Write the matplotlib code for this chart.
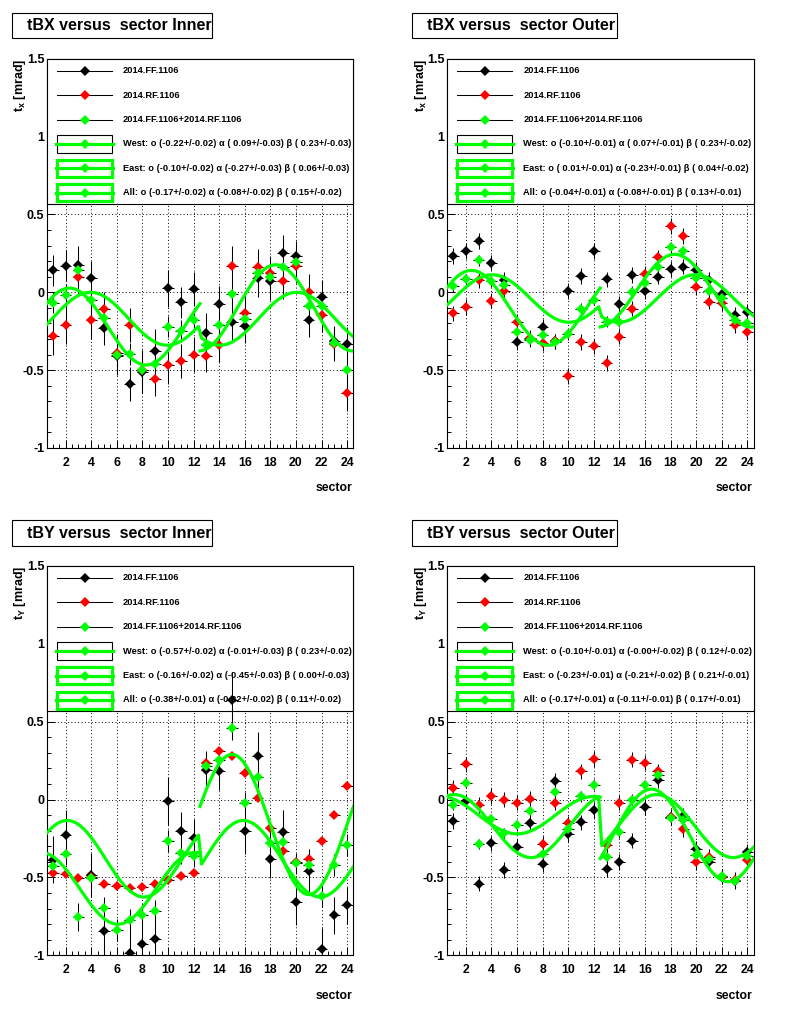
import numpy as np
import matplotlib
matplotlib.use("Agg")
import matplotlib.pyplot as plt
from matplotlib.patches import Rectangle
from matplotlib.lines import Line2D
from matplotlib.ticker import FixedLocator, MultipleLocator

plt.rcParams['font.family'] = ['Liberation Sans', 'DejaVu Sans']
plt.rcParams['font.weight'] = 'bold'
plt.rcParams['mathtext.fontset'] = 'custom'
plt.rcParams['mathtext.rm'] = 'Liberation Sans:bold'
plt.rcParams['mathtext.bf'] = 'Liberation Sans:bold'
plt.rcParams['mathtext.it'] = 'Liberation Sans:bold'

sectors = np.arange(1, 25)
xticks = [2, 4, 6, 8, 10, 12, 14, 16, 18, 20, 22, 24]
yticks = [-1, -0.5, 0, 0.5, 1, 1.5]
ytick_labels = ["-1", "-0.5", "0", "0.5", "1", "1.5"]
series_names = ["2014.FF.1106", "2014.RF.1106", "2014.FF.1106+2014.RF.1106"]
series_colors = ["black", "red", "#00ff00"]
fit_names = ["West", "East", "All"]
GREEN = "#00ff00"

# ---- tBX Inner
tbx_in_ff = [0.14, 0.17, 0.175, 0.09, -0.23, -0.41, -0.59, -0.51, -0.375, 0.025, -0.065, 0.02,
             -0.26, -0.077, -0.19, -0.215, 0.09, 0.07, 0.255, 0.23, -0.18, -0.03, -0.315, -0.335]
tbx_in_ff_err = [0.10, 0.10, 0.12, 0.11, 0.11, 0.12, 0.11, 0.14, 0.14, 0.12, 0.10, 0.11,
                 0.13, 0.12, 0.12, 0.11, 0.12, 0.12, 0.11, 0.10, 0.11, 0.11, 0.10, 0.11]
tbx_in_rf = [-0.28, -0.21, 0.10, -0.18, -0.11, -0.39, -0.21, -0.50, -0.555, -0.47, -0.44, -0.40,
             -0.41, -0.34, 0.17, -0.13, 0.16, 0.125, 0.07, 0.17, 0.005, -0.145, -0.33, -0.65]
tbx_in_rf_err = [0.12, 0.12, 0.11, 0.12, 0.11, 0.12, 0.11, 0.11, 0.11, 0.12, 0.11, 0.11,
                 0.10, 0.11, 0.13, 0.11, 0.12, 0.11, 0.11, 0.11, 0.11, 0.11, 0.11, 0.11]
tbx_in_all = [-0.066, -0.02, 0.14, -0.047, -0.166, -0.40, -0.394, -0.50, -0.46, -0.22, -0.25, -0.18,
              -0.34, -0.21, -0.013, -0.17, 0.125, 0.096, 0.164, 0.196, -0.09, -0.087, -0.323, -0.496]
tbx_in_all_err = [0.07] * 24
tbx_in_fit = [(-0.22, 0.09, 0.23), (-0.10, -0.27, 0.06), (-0.17, -0.08, 0.15)]
tbx_in_fit_err = [(0.02, 0.03, 0.03), (0.02, 0.03, 0.03), (0.02, 0.02, 0.02)]

# ---- tBX Outer
tbx_out_ff = [0.233, 0.265, 0.33, 0.19, 0.08, -0.32, -0.30, -0.22, -0.315, 0.01, 0.105, 0.265,
              0.083, -0.077, 0.11, 0.01, 0.10, 0.15, 0.165, 0.143, 0.08, -0.01, -0.145, -0.124]
tbx_out_ff_err = [0.05] * 24
tbx_out_rf = [-0.135, -0.094, 0.079, -0.053, 0.01, -0.188, -0.295, -0.327, -0.316, -0.536, -0.32, -0.348,
              -0.455, -0.284, -0.105, 0.118, 0.224, 0.425, 0.36, 0.032, -0.06, -0.07, -0.21, -0.258]
tbx_out_rf_err = [0.05] * 24
tbx_out_all = [0.04, 0.085, 0.205, 0.07, 0.047, -0.254, -0.305, -0.273, -0.322, -0.269, -0.107, -0.049,
               -0.188, -0.188, 0.004, 0.062, 0.165, 0.288, 0.265, 0.09, 0.01, -0.038, -0.18, -0.20]
tbx_out_all_err = [0.035] * 24
tbx_out_fit = [(-0.10, 0.07, 0.23), (0.01, -0.23, 0.04), (-0.04, -0.08, 0.13)]
tbx_out_fit_err = [(0.01, 0.01, 0.02), (0.01, 0.01, 0.02), (0.01, 0.01, 0.01)]

# ---- tBY Inner
tby_in_ff = [-0.387, -0.228, np.nan, -0.483, -0.845, np.nan, -0.983, -0.926, -0.898, -0.01, -0.202, -0.245,
             0.19, 0.183, 0.64, -0.202, 0.279, -0.381, -0.206, -0.657, -0.457, -0.962, -0.743, -0.679]
tby_in_ff_err = [0.15, 0.16, 0.15, 0.14, 0.15, 0.15, 0.15, 0.16, 0.15, 0.155, 0.12, 0.12,
                 0.12, 0.12, 0.18, 0.15, 0.155, 0.12, 0.14, 0.15, 0.14, 0.14, 0.12, 0.12]
tby_in_rf = [-0.472, -0.477, -0.504, -0.494, -0.54, -0.553, -0.568, -0.564, -0.54, -0.519, -0.489, -0.472,
             0.234, 0.315, 0.279, 0.17, 0.013, -0.185, -0.33, -0.402, -0.381, -0.266, -0.10, 0.089]
tby_in_rf_err = [0.02] * 24
tby_in_all = [-0.426, -0.349, -0.753, -0.504, -0.696, -0.838, -0.774, -0.738, -0.717, -0.266, -0.345, -0.362,
              0.215, 0.255, 0.46, -0.021, 0.145, -0.281, -0.274, -0.41, -0.419, -0.617, -0.419, -0.291]
tby_in_all_err = [0.07, 0.07, 0.09, 0.07, 0.07, 0.07, 0.07, 0.07, 0.07, 0.07, 0.07, 0.07,
                  0.07, 0.07, 0.08, 0.07, 0.07, 0.07, 0.07, 0.07, 0.07, 0.07, 0.07, 0.07]
tby_in_fit = [(-0.57, -0.01, 0.23), (-0.16, -0.45, 0.00), (-0.38, -0.22, 0.11)]
tby_in_fit_err = [(0.02, 0.03, 0.02), (0.02, 0.03, 0.03), (0.01, 0.02, 0.02)]

# ---- tBY Outer
tby_out_ff = [-0.138, -0.011, -0.54, -0.281, -0.451, -0.302, -0.153, -0.413, 0.119, -0.223, -0.147, -0.068,
              -0.447, -0.402, -0.264, -0.047, 0.123, -0.115, -0.104, -0.319, -0.398, -0.494, -0.526, -0.334]
tby_out_ff_err = [0.05] * 24
tby_out_rf = [0.077, 0.226, -0.036, 0.023, 0.0, -0.019, 0.006, -0.285, -0.019, -0.153, 0.181, 0.262,
              -0.291, -0.019, 0.257, 0.238, 0.181, -0.111, -0.191, -0.404, -0.366, -0.494, -0.515, -0.387]
tby_out_rf_err = [0.05] * 24
tby_out_all = [-0.032, 0.109, -0.285, -0.126, -0.217, -0.166, -0.074, -0.349, 0.049, -0.189, 0.021, 0.096,
               -0.366, -0.209, 0.0, 0.091, 0.155, -0.121, -0.132, -0.355, -0.383, -0.489, -0.526, -0.362]
tby_out_all_err = [0.035] * 24
tby_out_fit = [(-0.10, -0.0, 0.12), (-0.23, -0.21, 0.21), (-0.17, -0.11, 0.17)]
tby_out_fit_err = [(0.01, 0.02, 0.02), (0.01, 0.02, 0.01), (0.01, 0.01, 0.01)]

panels = [
    ("tBX versus  sector Inner", "x", (tbx_in_ff, tbx_in_rf, tbx_in_all),
     (tbx_in_ff_err, tbx_in_rf_err, tbx_in_all_err), tbx_in_fit, tbx_in_fit_err),
    ("tBX versus  sector Outer", "x", (tbx_out_ff, tbx_out_rf, tbx_out_all),
     (tbx_out_ff_err, tbx_out_rf_err, tbx_out_all_err), tbx_out_fit, tbx_out_fit_err),
    ("tBY versus  sector Inner", "y", (tby_in_ff, tby_in_rf, tby_in_all),
     (tby_in_ff_err, tby_in_rf_err, tby_in_all_err), tby_in_fit, tby_in_fit_err),
    ("tBY versus  sector Outer", "y", (tby_out_ff, tby_out_rf, tby_out_all),
     (tby_out_ff_err, tby_out_rf_err, tby_out_all_err), tby_out_fit, tby_out_fit_err),
]


def fit_func(kind, o, a, b, s, east):
    # o + alpha/beta harmonic in sector phi (STAR layout: west 1-12, east 13-24)
    phi = np.deg2rad(np.where(east, 90 + 30 * s, 90 - 30 * s))
    if kind == "x":
        return o + a * np.sin(phi) + b * np.cos(phi)
    sign = np.where(east, -1.0, 1.0)
    return o + sign * (-a * np.cos(phi) + b * np.sin(phi))


W, H = 800, 1014
fig = plt.figure(figsize=(W / 100, H / 100), dpi=100)
fig.patch.set_facecolor("white")

origins = [(0, 0), (400.2, 0), (0, 507.3), (400.2, 507.3)]
AX_L, AX_R, AX_T, AX_B = 46.5, 353.5, 58.7, 448.0
AXW, AXH = AX_R - AX_L, AX_B - AX_T
LEG_H = 145.3
rows_px = [12, 36.4, 60.8, 85.2, 109.6, 134]

for (title, kind, vals, errs, fits, fit_errs), (ox, oy) in zip(panels, origins):
    ax = fig.add_axes([(ox + AX_L) / W, 1 - (oy + AX_B) / H, AXW / W, AXH / H])
    ax.set_xlim(0.5, 24.5)
    ax.set_ylim(-1, 1.5)
    ax.set_axisbelow(True)
    ax.xaxis.set_major_locator(FixedLocator(xticks))
    ax.set_xticklabels([str(t) for t in xticks])
    ax.xaxis.set_minor_locator(MultipleLocator(0.5))
    ax.yaxis.set_major_locator(FixedLocator(yticks))
    ax.set_yticklabels(ytick_labels)
    ax.yaxis.set_minor_locator(MultipleLocator(0.1))
    ax.tick_params(which="both", direction="in", top=False, right=False, width=0.7, colors="black")
    ax.tick_params(which="major", length=5.5)
    ax.tick_params(which="minor", length=2.8)
    ax.tick_params(axis="x", labelsize=8.8, pad=6.5)
    ax.tick_params(axis="y", labelsize=9, pad=1.5)
    for sp in ax.spines.values():
        sp.set_linewidth(0.8)
    ax.grid(True, which="major", color="black", linestyle=(0, (1, 2.5)), linewidth=0.7)
    ax.set_xlabel("sector", loc="right", fontsize=8.8, fontweight="bold")
    ax.xaxis.set_label_coords(0.996, -0.088)

    # data
    for v, e, c in zip(vals, errs, series_colors):
        ax.errorbar(sectors, v, yerr=e, xerr=0.45, fmt="D", color=c, ms=4.9, mec=c, mew=0,
                    ecolor="black", elinewidth=0.75, capsize=0, zorder=4)

    # fits
    (fw, fe, fa) = fits
    s_w = np.linspace(0.5, 12.5, 100)
    s_e = np.linspace(12.5, 24.5, 100)
    s_a = np.linspace(0.5, 24.5, 100)
    ax.plot(s_w, fit_func(kind, *fw, s_w, np.zeros_like(s_w, bool)), color=GREEN, lw=2.3, zorder=5)
    ax.plot(s_e, fit_func(kind, *fe, s_e, np.ones_like(s_e, bool)), color=GREEN, lw=2.3, zorder=5)
    ax.plot(s_a, fit_func(kind, *fa, s_a, s_a > 12.5), color=GREEN, lw=2.3, zorder=5)

    # legend box
    tr = ax.transAxes
    ax.add_patch(Rectangle((0, 1 - LEG_H / AXH), 1, LEG_H / AXH, transform=tr, fc="white",
                           ec="black", lw=0.8, zorder=3, clip_on=False))
    hx0, hx1, hxc, tx = 10.5 / AXW, 65.5 / AXW, 38 / AXW, 76.5 / AXW
    labels = list(series_names)
    for name, p, pe in zip(fit_names, fits, fit_errs):
        labels.append(f"{name}: o ({p[0]:5.2f}+/-{pe[0]:.2f}) \u03b1 ({p[1]:5.2f}+/-{pe[1]:.2f}) "
                      f"\u03b2 ({p[2]:5.2f}+/-{pe[2]:.2f})")
    for i, (lab, rp) in enumerate(zip(labels, rows_px)):
        y = 1 - rp / AXH
        if i < 3:
            ax.add_line(Line2D([hx0, hx1], [y, y], transform=tr, color="black", lw=0.75, zorder=3.1))
            mc = series_colors[i]
        else:
            bh = (18 if i == 3 else 17) / AXH
            ec = "black" if i == 3 else GREEN
            lw = 0.8 if i == 3 else 2.3
            ax.add_patch(Rectangle((hx0, y - bh / 2), hx1 - hx0, bh, transform=tr, fc="white",
                                   ec=ec, lw=lw, zorder=3.1))
            ax.add_line(Line2D([hx0 - 1 / AXW, hx1 + 1 / AXW], [y, y], transform=tr, color=GREEN,
                               lw=2.3, zorder=3.2))
            mc = GREEN
        ax.add_line(Line2D([hxc], [y], transform=tr, marker="D", ms=4.9, mew=0, color=mc, zorder=3.3))
        ax.text(tx, y, lab, transform=tr, fontsize=6.7, fontweight="bold", va="center", ha="left",
                zorder=3.3)

    # title box
    tw = 200.6 if title.endswith("Inner") else 205.0
    fig.add_artist(Rectangle(((ox + 11.7) / W, 1 - (oy + 38.3) / H), tw / W, 25.6 / H,
                             transform=fig.transFigure, fc="white", ec="black", lw=0.8))
    fig.text((ox + 27) / W, 1 - (oy + 30.2) / H, title, fontsize=11.5, fontweight="bold",
             ha="left", va="baseline")

    # y axis title
    sub = "x" if kind == "x" else "Y"
    fig.text((ox + 20.5) / W, 1 - (oy + 58.5) / H, r"$\mathbf{t}_{\mathbf{%s}}$ [mrad]" % sub,
             rotation=90, fontsize=9, fontweight="bold", ha="center", va="top")

fig.savefig("out.png", dpi=100)
